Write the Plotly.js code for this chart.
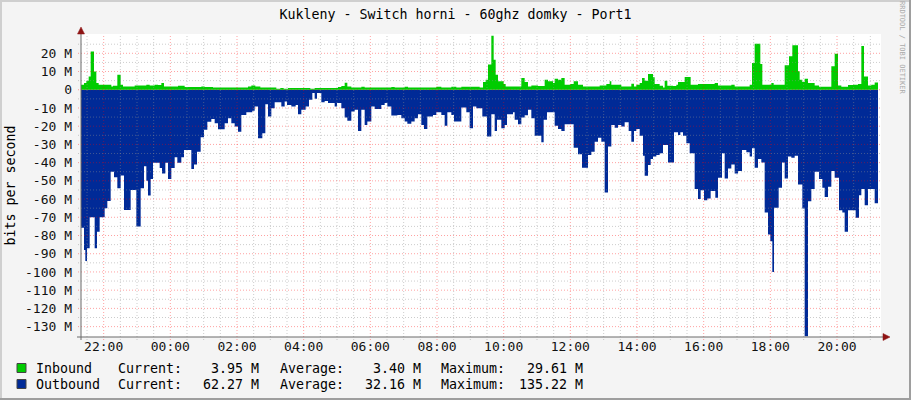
<!DOCTYPE html>
<html><head><meta charset="utf-8">
<script src="https://cdn.plot.ly/plotly-3.0.1.min.js"></script>
<style>html,body{margin:0;padding:0;background:#f4f4f4;} #chart{width:911px;height:400px;}</style>
</head><body><div id="chart"></div>
<script>
// Time in hours since midnight of the first day (values > 24 are the next day)
const outTimes = [21.31,21.41,21.45,21.50,21.58,21.73,21.80,21.88,22.03,22.11,22.21,22.31,22.41,22.51,22.61,22.81,22.98,23.11,23.21,23.28,23.33,23.41,23.48,23.68,23.75,23.85,23.93,24.03,24.13,24.21,24.33,24.41,24.63,24.71,24.80,24.91,25.01,25.11,25.23,
25.33,25.43,25.63,25.73,25.83,25.93,26.03,26.13,26.28,26.46,26.53,26.63,26.76,26.85,26.93,27.03,27.13,27.33,27.43,27.50,27.63,27.76,27.83,27.93,28.06,28.16,28.26,28.33,28.40,28.53,28.63,28.73,28.93,29.00,29.13,29.23,29.31,
29.43,29.53,29.63,29.73,29.83,29.91,30.03,30.13,30.33,30.43,30.51,30.63,30.81,30.93,31.03,31.11,31.23,31.33,31.43,31.53,31.61,31.71,31.88,31.98,32.13,32.23,32.31,32.43,32.51,32.73,32.88,32.98,33.08,33.18,33.36,
33.50,33.63,33.73,33.80,33.93,34.03,34.10,34.28,34.33,34.43,34.53,34.63,34.73,34.83,34.93,35.13,35.20,35.30,35.53,35.63,35.73,35.83,36.10,36.23,36.35,36.53,36.63,36.73,36.83,36.93,37.03,37.13,37.23,37.33,37.43,
37.53,37.63,37.75,37.83,37.91,37.98,38.08,38.18,38.23,38.33,38.41,38.48,38.58,38.68,38.78,38.93,39.11,39.23,39.30,39.38,39.48,39.58,39.73,39.83,39.91,40.01,40.11,40.21,40.35,40.43,40.55,40.63,40.73,40.83,40.93,41.03,41.15,41.28,41.38,41.45,
41.53,41.63,41.73,41.83,41.93,42.00,42.06,42.11,42.25,42.35,42.43,42.53,42.63,42.73,42.83,42.96,43.03,43.13,43.23,43.33,43.46,43.56,43.63,43.73,43.83,43.93,44.06,44.16,44.23,44.33,44.56,44.66,44.73,44.83,44.93,45.13,45.23];
const outValues = [-75.7,-88,-94,-87,-70,-87,-78,-70,-65,-61,-45,-48,-54,-47,-66,-55,-75,-54,-42,-50,-58,-49,-40,-43,-46,-40,-49,-43,-37,-40,-37,-33,-43.5,-41,-34,-26,-22,-17.5,-16,
-18.4,-21.7,-18.4,-15.6,-18.4,-20.2,-23,-13.8,-12.3,-11.5,-9.2,-26.6,-23.9,-7.9,-14.7,-10.1,-6.8,-9.2,-6.4,-8.3,-9.2,-8.3,-13.4,-11,-9.2,-5.5,-1.8,-5,-1.8,-6.8,-6.2,-7.3,-9.2,-7.3,-10.1,-15.2,-17,
-12,-11,-22.6,-11,-19.3,-17.4,-9.2,-10.5,-8.3,-7.3,-9.2,-14.1,-13.8,-15.6,-17.4,-18.7,-17.4,-15.6,-13.4,-19.3,-21.5,-14.7,-13.8,-12.3,-13.8,-19.7,-12.3,-13.8,-17.4,-9.7,-12.3,-21.1,-9.2,-10.1,-14.7,
-25.7,-13.4,-22.6,-16.5,-21.1,-19.3,-13.4,-12.3,-16.5,-18.9,-15.2,-14,-11,-15.6,-25.2,-28.8,-16.5,-12.3,-19.8,-21.5,-22.6,-18.9,-31.8,-35.4,-42.8,-35.8,-34,-28.5,-26.3,-28.5,-56.4,-31.2,-19.3,-20.8,-19.3,
-20.2,-17.8,-22.6,-28.5,-22.6,-21.5,-25.2,-36.2,-47.2,-41.3,-38,-36.7,-35.8,-34.9,-30.3,-39.9,-23.3,-24.8,-23.3,-25.2,-29.4,-34.9,-54.5,-60,-55.1,-60.6,-59.7,-55.6,-59.3,-48.3,-34.9,-48.7,-43.2,-41,-45.9,-44.6,-33,-34.3,-36.7,-32.1,
-42.8,-38,-39.9,-67.4,-79.5,-83.2,-100,-64.8,-53.8,-39.9,-48.7,-36.7,-37.3,-36.2,-52,-65.2,-135.22,-61.2,-54.5,-45,-49,-53.8,-58.8,-53.3,-44.6,-48.3,-66.1,-67.4,-78,-66.1,-70.3,-57.9,-54.5,-63.4,-54.5,-62.27,-62.27];

const inTimes = [21.31,21.41,21.48,21.55,21.61,21.71,21.78,21.85,22.23,22.28,22.41,22.51,22.58,22.93,23.28,23.38,23.53,23.63,23.73,23.81,24.23,24.43,24.93,25.03,25.28,26.33,26.43,26.55,26.70,27.18,27.30,27.40,27.53,28.20,28.33,29.03,29.13,29.23,29.31,29.43,29.73,29.83,30.63,30.73,31.03,31.13,31.98,32.13,32.43,32.58,32.73,33.28,
33.38,33.46,33.53,33.63,33.70,33.76,33.83,34.00,34.06,34.53,34.63,34.73,34.83,35.03,35.23,35.33,35.48,35.53,35.63,35.73,35.83,36.00,36.10,36.23,36.38,36.88,37.08,37.18,37.23,
37.43,37.53,37.83,37.91,37.98,38.08,38.15,38.23,38.33,38.48,38.53,38.68,38.78,38.83,38.91,39.08,39.18,39.23,39.43,39.61,39.83,40.33,40.43,40.83,40.93,41.38,41.45,
41.53,41.70,41.76,42.03,42.10,42.43,42.56,42.66,42.83,42.88,42.96,43.03,43.13,43.33,43.46,43.83,43.93,44.03,44.13,44.33,44.48,44.63,44.73,44.81,44.93,45.03,45.13,45.23];
const inValues = [2.8,3.7,5,7.3,21,10,3.7,2.8,1.8,2.2,8.3,2.8,1.8,2.4,2.8,2.4,2.8,2.6,3.7,1.8,2.2,1.5,1.8,1.5,1.3,1.8,2.4,1.8,1.3,0.5,1.0,0.5,1.0,0.5,1.0,1.5,2.0,3.9,1.8,1.2,1.7,1.2,1.5,1.2,1.7,1.2,1.7,1.2,1.7,1.2,1.7,1.2,
4.2,5.5,13.8,29.61,16.5,8.3,4.6,3.1,1.8,6.4,4.2,1.8,2.4,2.0,5.5,4.6,3.7,6.0,5.5,6.4,2.8,3.1,4.6,2.8,1.8,2.4,3.1,4.6,2.8,
2.8,1.8,3.3,1.8,2.8,3.7,6.4,5.0,8.6,6.8,3.1,2.2,1.3,5.0,2.2,2.0,2.8,4.2,7.0,2.8,3.1,3.7,2.4,2.8,1.8,2.8,14.7,
25.2,14.1,2.8,3.7,2.8,13.4,18.4,24.4,10.1,5.5,4.2,6.0,3.7,2.4,1.7,12.9,19.7,2.4,1.7,2.6,2.8,3.1,24,7.3,2.4,2.8,3.95,3.95];

const xTickVals = [22,24,26,28,30,32,34,36,38,40,42,44];
const xTickText = ['22:00','00:00','02:00','04:00','06:00','08:00','10:00','12:00','14:00','16:00','18:00','20:00'];
const yTickVals = [20,10,0,-10,-20,-30,-40,-50,-60,-70,-80,-90,-100,-110,-120,-130];
const yTickText = ['20 M','10 M','0','-10 M','-20 M','-30 M','-40 M','-50 M','-60 M','-70 M','-80 M','-90 M','-100 M','-110 M','-120 M','-130 M'];

const legendNames = ['Inbound','Outbound'];
const legendColors = ['#00CC00','#002A97'];
const legendCurrent = ['3.95 M','62.27 M'];
const legendAverage = ['3.40 M','32.16 M'];
const legendMaximum = ['29.61 M','135.22 M'];

const L=81, R=881, T=34, B=337;
const px = x => (x-L)/(R-L);
const py = y => (B-y)/(B-T);
const xRange = [21.32, 45.32];
const yRange = [-135.7, 30.6];
const MONO = 'DejaVu Sans Mono';

const traces = [
  {x: outTimes, y: outValues, type:'scatter', mode:'lines', line:{shape:'hv', width:0, color:legendColors[1]},
   fill:'tozeroy', fillcolor:legendColors[1], hoverinfo:'skip', showlegend:false},
  {x: inTimes, y: inValues, type:'scatter', mode:'lines', line:{shape:'hv', width:0, color:legendColors[0]},
   fill:'tozeroy', fillcolor:legendColors[0], hoverinfo:'skip', showlegend:false}
];

const shapes = [];
const MAJ = 'rgba(255,0,0,0.37)', MIN = 'rgba(143,143,143,0.45)';
const DASH = '1px,2px';
// minor vertical grid every 30 min
for (let h = 21.5; h <= 45.0; h += 0.5) {
  if (Math.abs(h/2 - Math.round(h/2)) < 1e-6) continue;
  shapes.push({type:'line', xref:'x', yref:'paper', x0:h, x1:h, y0:-3/(B-T), y1:1, layer:'above', line:{color:MIN, width:1, dash:DASH}});
}
// minor horizontal grid every 5 M
for (let v = -130; v <= 25; v += 5) {
  if (v % 10 === 0) continue;
  shapes.push({type:'line', xref:'paper', yref:'y', x0:-3/(R-L), x1:1, y0:v, y1:v, layer:'above', line:{color:MIN, width:1, dash:DASH}});
}
xTickVals.forEach(h => shapes.push({type:'line', xref:'x', yref:'paper', x0:h, x1:h, y0:-3/(B-T), y1:1, layer:'above', line:{color:MAJ, width:1, dash:DASH}}));
yTickVals.forEach(v => shapes.push({type:'line', xref:'paper', yref:'y', x0:-3/(R-L), x1:1, y0:v, y1:v, layer:'above', line:{color:MAJ, width:1, dash:DASH}}));
// axes lines
const AX = '#6a6a6a', ARW = '#8e1414';
shapes.push({type:'line', xref:'paper', yref:'paper', x0:px(81), x1:px(81), y0:py(340), y1:py(30), layer:'above', line:{color:AX, width:1}});
shapes.push({type:'line', xref:'paper', yref:'paper', x0:px(77), x1:px(886), y0:py(337), y1:py(337), layer:'above', line:{color:AX, width:1}});
// arrows
shapes.push({type:'path', xref:'paper', yref:'paper', path:`M ${px(77.5)} ${py(34)} L ${px(84.5)} ${py(34)} L ${px(81)} ${py(27)} Z`, fillcolor:ARW, line:{color:ARW, width:0.5}, layer:'above'});
shapes.push({type:'path', xref:'paper', yref:'paper', path:`M ${px(883)} ${py(333.5)} L ${px(883)} ${py(340.5)} L ${px(890)} ${py(337)} Z`, fillcolor:ARW, line:{color:ARW, width:0.5}, layer:'above'});
// frame (3D border)
shapes.push({type:'rect', xref:'paper', yref:'paper', x0:px(0), x1:px(911), y0:py(0), y1:py(2), fillcolor:'#cfcfcf', line:{width:0}});
shapes.push({type:'rect', xref:'paper', yref:'paper', x0:px(0), x1:px(2), y0:py(0), y1:py(400), fillcolor:'#cfcfcf', line:{width:0}});
shapes.push({type:'rect', xref:'paper', yref:'paper', x0:px(909), x1:px(911), y0:py(0), y1:py(400), fillcolor:'#9e9e9e', line:{width:0}});
shapes.push({type:'rect', xref:'paper', yref:'paper', x0:px(0), x1:px(911), y0:py(398), y1:py(400), fillcolor:'#9e9e9e', line:{width:0}});

const annotations = [];
const rowsY = [368, 384];
legendNames.forEach((n, i) => {
  const yc = rowsY[i];
  shapes.push({type:'rect', xref:'paper', yref:'paper', x0:px(17), x1:px(26), y0:py(yc-4.5), y1:py(yc+4.5), fillcolor:legendColors[i], line:{color:'#444', width:1}});
  const mk = (txt, x, anchor) => annotations.push({xref:'paper', yref:'paper', x:px(x), y:py(yc), text:txt, showarrow:false, xanchor:anchor, yanchor:'middle', font:{family:MONO, size:13.3, color:'#000'}});
  mk(n, 33.5, 'left');
  mk('Current:', 115.5, 'left');
  mk(legendCurrent[i], 261, 'right');
  mk('Average:', 277.5, 'left');
  mk(legendAverage[i], 423, 'right');
  mk('Maximum:', 439, 'left');
  mk(legendMaximum[i], 585, 'right');
});
annotations.push({xref:'paper', yref:'paper', x:px(902), y:py(48), text:'RRDTOOL / TOBI OETIKER', textangle:90, showarrow:false, xanchor:'center', yanchor:'middle', font:{family:MONO, size:7, color:'#aaaaaa'}});

const layout = {
  width:911, height:400,
  margin:{l:L, r:911-R, t:T, b:400-B, pad:0},
  paper_bgcolor:'#f4f4f4', plot_bgcolor:'#ffffff',
  title:{text:'Kukleny - Switch horni - 60ghz domky - Port1', x:0.5, xanchor:'center', y:1-14/400, yanchor:'middle', yref:'container', font:{family:MONO, size:13.3, color:'#000'}},
  xaxis:{range:xRange, tickmode:'array', tickvals:xTickVals, ticktext:xTickText, showgrid:false, zeroline:false, showline:false, ticks:'', ticklabelstandoff:0, tickfont:{family:MONO, size:13, color:'#111'}, fixedrange:true},
  yaxis:{range:yRange, tickmode:'array', tickvals:yTickVals, ticktext:yTickText, showgrid:false, zeroline:false, showline:false, ticks:'', ticklabelstandoff:8, tickfont:{family:MONO, size:13, color:'#111'},
    title:{text:'bits per second', standoff:6, font:{family:MONO, size:13.3, color:'#000'}}, fixedrange:true},
  shapes, annotations, showlegend:false
};
Plotly.newPlot('chart', traces, layout, {staticPlot:true, displayModeBar:false});
</script>
</body></html>
